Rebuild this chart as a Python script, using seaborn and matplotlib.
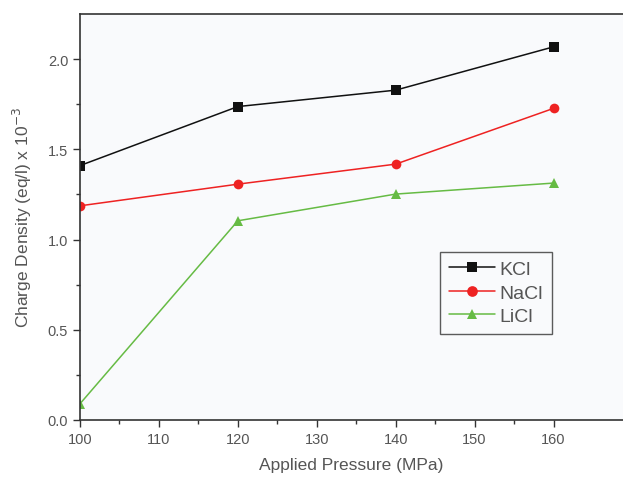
import matplotlib
matplotlib.use("Agg")
import matplotlib.pyplot as plt
import seaborn as sns
import pandas as pd
from matplotlib.ticker import FixedLocator

pressure = [100, 120, 140, 160]
kcl = [1.41, 1.737, 1.828, 2.068]
nacl = [1.187, 1.307, 1.418, 1.727]
licl = [0.09, 1.104, 1.252, 1.313]
series_names = ["KCl", "NaCl", "LiCl"]

rows = []
for name, vals in zip(series_names, [kcl, nacl, licl]):
    for p, v in zip(pressure, vals):
        rows.append({"Pressure": p, "Density": v, "Salt": name})
df = pd.DataFrame(rows)

sns.set_style("ticks")
plt.rcParams['font.family'] = ['Liberation Sans', 'DejaVu Sans']

fig = plt.figure(figsize=(6.23, 4.81), dpi=100)
fig.patch.set_facecolor("#ffffff")
ax = fig.add_axes([80/623, 60/481, 543/623, 406/481])
ax.set_facecolor("#f9fafc")

palette = {"KCl": "#111111", "NaCl": "#ee2222", "LiCl": "#66bb44"}
markers = {"KCl": "s", "NaCl": "o", "LiCl": "^"}
sns.lineplot(data=df, x="Pressure", y="Density", hue="Salt", style="Salt",
             palette=palette, markers=markers, dashes=False, markersize=7,
             markeredgewidth=0, linewidth=1.1, ax=ax)
for ln in ax.get_lines():
    ln.set_clip_on(True)

ax.set_xlim(100, 168.8)
ax.set_ylim(0, 2.25)
ax.set_xticks([100, 110, 120, 130, 140, 150, 160])
ax.xaxis.set_minor_locator(FixedLocator([105, 115, 125, 135, 145, 155]))
ax.set_yticks([0.0, 0.5, 1.0, 1.5, 2.0])
ax.set_yticklabels(["0.0", "0.5", "1.0", "1.5", "2.0"])
ax.yaxis.set_minor_locator(FixedLocator([0.25, 0.75, 1.25, 1.75]))

for s in ["left", "bottom", "top"]:
    ax.spines[s].set_color("#333333")
    ax.spines[s].set_linewidth(1.2)
ax.spines["right"].set_visible(False)

ax.tick_params(which="major", direction="out", length=5, width=1, colors="#333333",
               labelcolor="#555555", labelsize=10.5)
ax.tick_params(which="minor", direction="out", length=3, width=1, colors="#333333")

ax.set_xlabel("Applied Pressure (MPa)", fontsize=12.5, color="#555555", labelpad=8)
ax.set_ylabel("Charge Density (eq/l) x 10$^{-3}$", fontsize=12.5, color="#555555", labelpad=10)

leg = ax.legend(loc="upper left", bbox_to_anchor=(0.663, 0.414), frameon=True,
                fancybox=False, edgecolor="#333333", fontsize=14, handlelength=2.4,
                handletextpad=0.2, borderpad=0.45, labelspacing=0.3, markerscale=1.1,
                borderaxespad=0)
leg.get_frame().set_linewidth(1.0)
leg.get_frame().set_facecolor("#f9fafc")
for t in leg.get_texts():
    t.set_color("#555555")

fig.savefig("out.png", dpi=100)
